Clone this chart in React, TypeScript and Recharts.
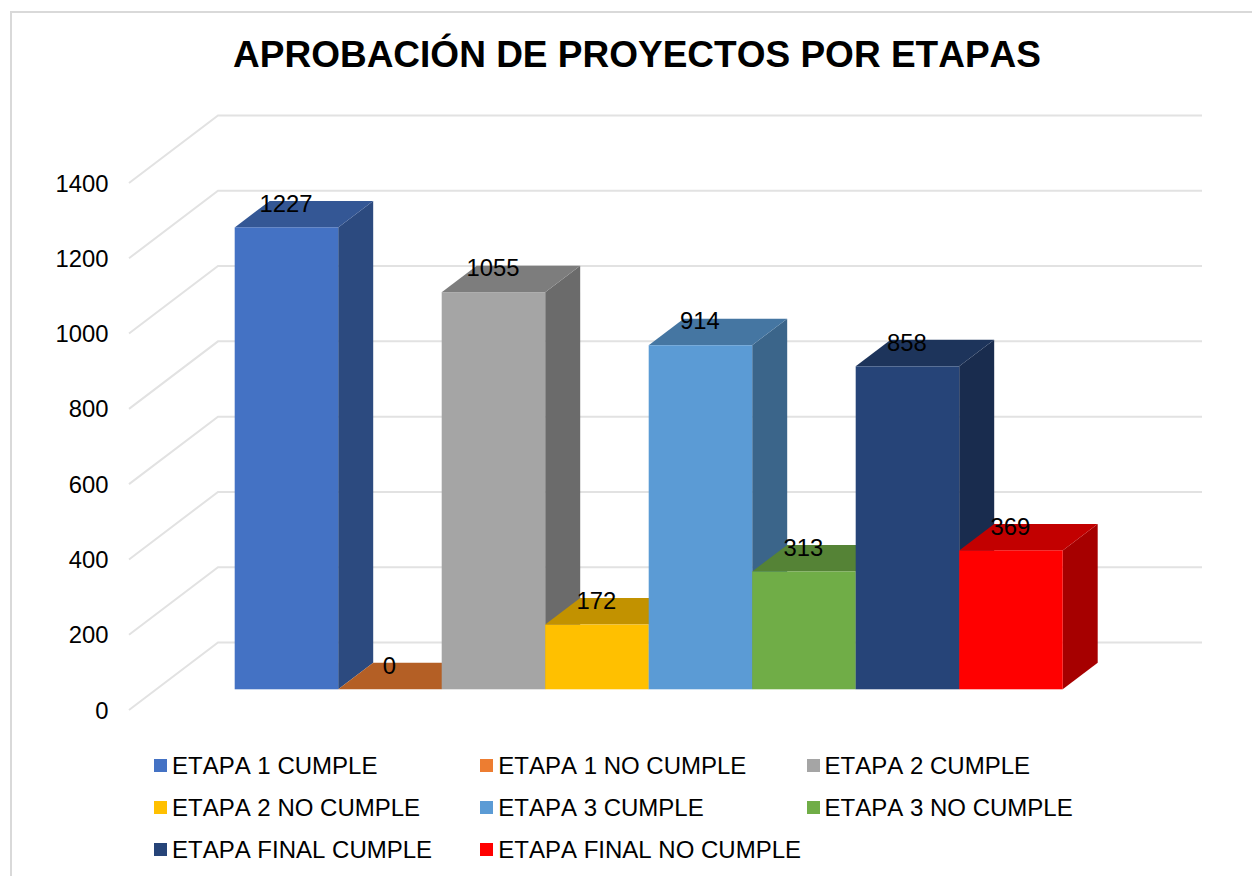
import React from "react";
import { BarChart, Bar, XAxis, YAxis, CartesianGrid, Legend, LabelList } from "recharts";

const categories = ["APROBACIÓN"];
const seriesNames = [
  "ETAPA 1 CUMPLE",
  "ETAPA 1 NO CUMPLE",
  "ETAPA 2 CUMPLE",
  "ETAPA 2 NO CUMPLE",
  "ETAPA 3 CUMPLE",
  "ETAPA 3 NO CUMPLE",
  "ETAPA FINAL CUMPLE",
  "ETAPA FINAL NO CUMPLE",
];
const seriesValues = [1227, 0, 1055, 172, 914, 313, 858, 369];
const seriesColors = ["#4472c4", "#ed7d31", "#a5a5a5", "#ffc000", "#5b9bd5", "#70ad47", "#264478", "#ff0000"];
const yTicks = [0, 200, 400, 600, 800, 1000, 1200, 1400];
const title = "APROBACIÓN DE PROYECTOS POR ETAPAS";

const tableRow: Record<string, string | number> = { category: categories[0] };
seriesNames.forEach((n, i) => (tableRow[n] = seriesValues[i]));
const table = [tableRow];

const FONT = '"Liberation Sans", Arial, sans-serif';
const W = 1252;
const H = 876;
const DEPTH_X = 35;
const DEPTH_Y = 26.5;
const WALL_FRONT = { dx: -27.7, dy: 20.7 };
const WALL_BACK = { dx: 61.3, dy: -46.8 };

function shade(hex: string, f: number) {
  const n = parseInt(hex.slice(1), 16);
  const c = [(n >> 16) & 255, (n >> 8) & 255, n & 255].map((v) => Math.round(v * f));
  return `rgb(${c[0]},${c[1]},${c[2]})`;
}

function Box3D(props: any) {
  const { x, y, width, height, fill } = props;
  const r = x + width;
  const b = y + height;
  const top = `${x},${y} ${r},${y} ${r + DEPTH_X},${y - DEPTH_Y} ${x + DEPTH_X},${y - DEPTH_Y}`;
  const side = `${r},${y} ${r + DEPTH_X},${y - DEPTH_Y} ${r + DEPTH_X},${b - DEPTH_Y} ${r},${b}`;
  return (
    <g>
      <polygon points={side} fill={shade(fill, 0.65)} />
      <polygon points={top} fill={shade(fill, 0.76)} />
      <rect x={x} y={y} width={width} height={height} fill={fill} />
    </g>
  );
}

function GridLine(props: any) {
  const { x1, x2, y1, index } = props;
  const d = `M${x1 + WALL_FRONT.dx},${y1 + WALL_FRONT.dy} L${x1 + WALL_BACK.dx},${y1 + WALL_BACK.dy} L${x2 + WALL_BACK.dx},${y1 + WALL_BACK.dy}`;
  return <path key={index} d={d} fill="none" stroke="#e2e2e2" strokeWidth={2} />;
}

function AxisTick(props: any) {
  const { y, payload } = props;
  return (
    <text x={108.5} y={y + WALL_FRONT.dy} textAnchor="end" dominantBaseline="central" fontFamily={FONT} fontSize={23.8} fill="#000">
      {payload.value}
    </text>
  );
}

function ValueLabel(props: any) {
  const { x, y, width, value } = props;
  return (
    <text x={x + width / 2 - 0.5} y={y - 24.3} textAnchor="middle" dominantBaseline="central" fontFamily={FONT} fontSize={23.8} fill="#000">
      {value}
    </text>
  );
}

function LegendGrid(props: any) {
  const items = props.payload || [];
  return (
    <div style={{ position: "relative", width: 0, height: 0 }}>
      {items.map((it: any, i: number) => {
        const left = 154 + (i % 3) * 326.3;
        const top = 765.5 + Math.floor(i / 3) * 42;
        return (
          <div key={it.value} style={{ position: "absolute", left, top: top - 15, height: 30, whiteSpace: "nowrap", fontFamily: FONT, fontSize: 24, lineHeight: "30px", color: "#000", fontKerning: "none" }}>
            <span style={{ position: "absolute", left: 0, top: 8.5, width: 13, height: 13, background: it.color }} />
            <span style={{ position: "absolute", left: 18, top: 0 }}>{it.value}</span>
          </div>
        );
      })}
    </div>
  );
}

export default function App() {
  return (
    <div style={{ position: "absolute", left: 0, top: 0, width: W, height: H, overflow: "hidden", background: "#fff" }}>
      <div style={{ position: "absolute", left: 10, top: 11, width: W, height: H, borderTop: "2px solid #d9d9d9", borderLeft: "2px solid #d9d9d9" }} />
      <div style={{ position: "absolute", left: 0, width: 1274, top: 33, height: 44, lineHeight: "44px", textAlign: "center", fontFamily: FONT, fontWeight: 700, fontSize: 37, color: "#000", whiteSpace: "nowrap", fontKerning: "none" }}>
        {title}
      </div>
      <BarChart
        width={W}
        height={H}
        data={table}
        margin={{ top: 162.3, right: 111.3, bottom: 186.7, left: 0 }}
        barSize={103.5}
        barGap={0}
        style={{ position: "absolute", left: 0, top: 0 }}
      >
        <CartesianGrid vertical={false} horizontal={GridLine as any} />
        <XAxis dataKey="category" hide />
        <YAxis width={156.7} domain={[0, 1400]} ticks={yTicks} axisLine={false} tickLine={false} interval={0} tick={AxisTick as any} />
        <Legend content={LegendGrid as any} wrapperStyle={{ left: 0, top: 0, width: 0, height: 0, position: "absolute" }} />
        {seriesNames.map((n, i) => (
          <Bar key={n} dataKey={n} fill={seriesColors[i]} shape={Box3D as any} isAnimationActive={false} minPointSize={0}>
            <LabelList dataKey={n} content={ValueLabel as any} />
          </Bar>
        ))}
      </BarChart>
    </div>
  );
}
